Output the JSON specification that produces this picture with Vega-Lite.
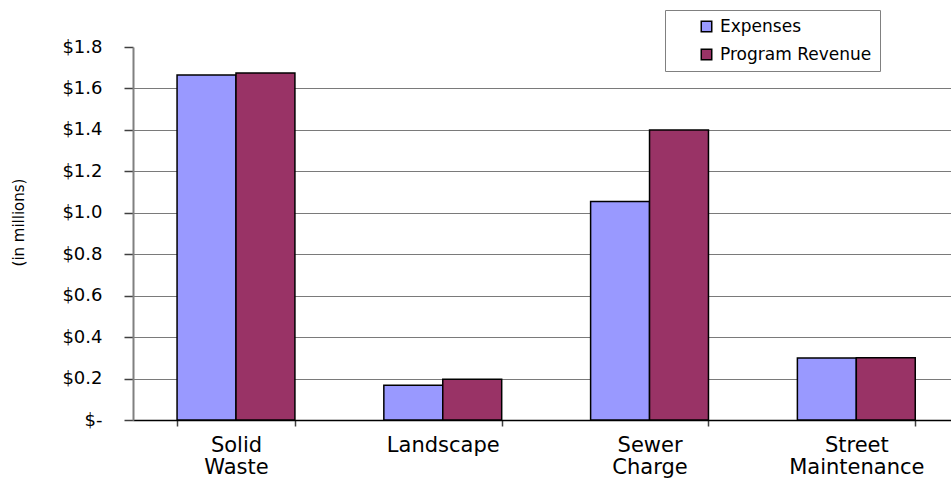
{
  "$schema": "https://vega.github.io/schema/vega-lite/v6.json",
  "width": 818,
  "height": 373,
  "autosize": {"type": "none"},
  "padding": {"left": 133, "top": 47, "right": 0, "bottom": 58},
  "background": "white",
  "config": {
    "view": {"stroke": null},
    "font": "DejaVu Sans"
  },
  "data": {
    "values": [
      {"program": "Solid Waste", "series": "Expenses", "amount": 1.665},
      {"program": "Solid Waste", "series": "Program Revenue", "amount": 1.675},
      {"program": "Landscape", "series": "Expenses", "amount": 0.168},
      {"program": "Landscape", "series": "Program Revenue", "amount": 0.197},
      {"program": "Sewer Charge", "series": "Expenses", "amount": 1.054},
      {"program": "Sewer Charge", "series": "Program Revenue", "amount": 1.4},
      {"program": "Street Maintenance", "series": "Expenses", "amount": 0.299},
      {"program": "Street Maintenance", "series": "Program Revenue", "amount": 0.3}
    ]
  },
  "mark": {"type": "bar", "stroke": "black", "strokeWidth": 1.5},
  "encoding": {
    "x": {
      "field": "program",
      "type": "nominal",
      "sort": ["Solid Waste", "Landscape", "Sewer Charge", "Street Maintenance"],
      "scale": {"paddingInner": 0.43, "paddingOuter": 0.193, "align": 0.552},
      "axis": {
        "title": null,
        "labelExpr": "split(datum.label, ' ')",
        "labelAngle": 0,
        "labelFontSize": 21,
        "labelColor": "black",
        "labelBaseline": "top",
        "labelPadding": 8,
        "labelLineHeight": 22,
        "tickBand": "extent",
        "tickSize": 6,
        "tickColor": "#404040",
        "tickWidth": 1.5,
        "domainColor": "black",
        "domainWidth": 1.5,
        "grid": false
      }
    },
    "xOffset": {"field": "series", "sort": ["Expenses", "Program Revenue"]},
    "y": {
      "field": "amount",
      "type": "quantitative",
      "scale": {"domain": [0, 1.8], "nice": false},
      "axis": {
        "values": [0, 0.2, 0.4, 0.6, 0.8, 1.0, 1.2, 1.4, 1.6, 1.8],
        "labelExpr": "datum.value == 0 ? '$-' : '$' + format(datum.value, '.1f')",
        "labelFontSize": 18,
        "labelColor": "black",
        "labelPadding": 22,
        "tickSize": 9,
        "tickColor": "#404040",
        "tickWidth": 1.5,
        "domainColor": "#808080",
        "domainWidth": 2,
        "grid": true,
        "gridColor": "#7a7a7a",
        "gridWidth": 1.2,
        "gridOpacity": {"condition": {"test": "datum.value >= 1.8", "value": 0}, "value": 1},
        "title": "(in millions)",
        "titleFontSize": 15,
        "titleFontWeight": "normal",
        "titleColor": "black",
        "titleAngle": -90,
        "titleX": -115,
        "titleY": 175,
        "titleAlign": "center",
        "titleBaseline": "middle"
      }
    },
    "color": {
      "field": "series",
      "type": "nominal",
      "scale": {"domain": ["Expenses", "Program Revenue"], "range": ["#9999FF", "#993366"]},
      "legend": {
        "title": null,
        "orient": "none",
        "legendX": 532,
        "legendY": -37,
        "direction": "vertical",
        "strokeColor": "#808080",
        "fillColor": "white",
        "padding": 8,
        "symbolType": "square",
        "symbolSize": 110,
        "symbolStrokeColor": "black",
        "symbolStrokeWidth": 1.5,
        "symbolOffset": 25,
        "labelFontSize": 17,
        "labelColor": "black",
        "labelOffset": 5,
        "labelLimit": 400,
        "rowPadding": 10
      }
    }
  }
}
